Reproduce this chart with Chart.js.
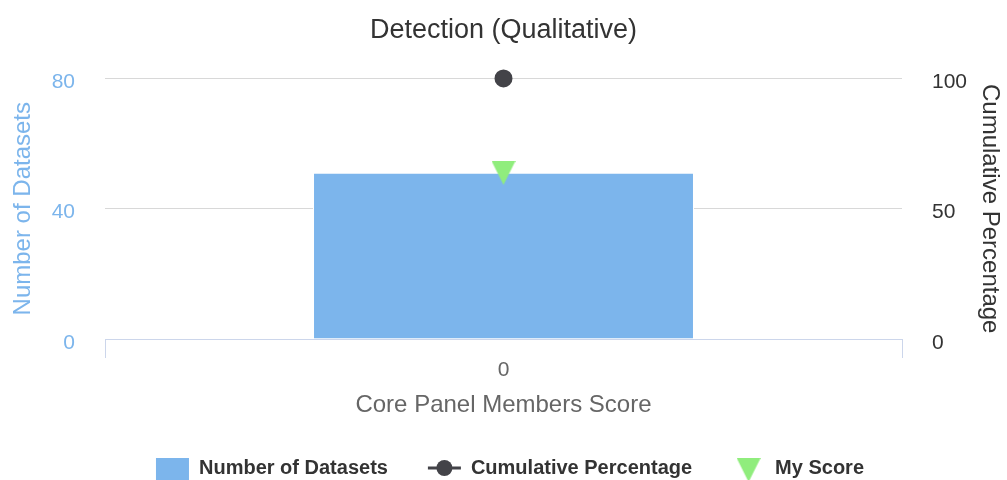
<!DOCTYPE html>
<html>
<head>
<meta charset="utf-8">
<script src="https://cdn.jsdelivr.net/npm/chart.js@4"></script>
<style>
  body { margin: 0; background: #fff; }
</style>
</head>
<body>
<canvas id="chart" width="1007" height="480"></canvas>
<script>
// chart data
const categories = ["0"];
const datasetCounts = [51];
const cumulativePercent = [100];
const myScore = [51];
const leftTicks = [0, 40, 80];
const rightTicks = [0, 50, 100];

const FONT = "'Liberation Sans', Arial, Helvetica, sans-serif";

// downward triangle marker (Highcharts style)
function triangleDown(size, color) {
    const c = document.createElement("canvas");
    c.width = size;
    c.height = size;
    const g = c.getContext("2d");
    g.fillStyle = color;
    g.beginPath();
    g.moveTo(0, 0);
    g.lineTo(size, 0);
    g.lineTo(size / 2, size);
    g.closePath();
    g.fill();
    return c;
}
const triMarker = triangleDown(24, "#90ed7d");

// legend drawn at the bottom like the original
const legendPlugin = {
    id: "bottomLegend",
    afterDraw(chart) {
        const ctx = chart.ctx;
        const items = chart.data.datasets;
        ctx.save();
        ctx.font = "bold 20px " + FONT;
        const symW = 33, gapText = 10, gapItem = 40;
        const widths = items.map(d => symW + gapText + ctx.measureText(d.label).width);
        const total = widths.reduce((a, b) => a + b, 0) + gapItem * (items.length - 1);
        let x = 510 - total / 2;
        const y = 468;
        items.forEach((d, i) => {
            if (d.type === "bar") {
                ctx.fillStyle = d.backgroundColor;
                ctx.fillRect(x, y - 10, symW, 22);
            } else if (d.pointStyle === triMarker) {
                ctx.drawImage(triMarker, x + symW / 2 - 12, y - 10);
            } else {
                ctx.strokeStyle = d.borderColor;
                ctx.lineWidth = 3;
                ctx.beginPath();
                ctx.moveTo(x, y);
                ctx.lineTo(x + symW, y);
                ctx.stroke();
                ctx.fillStyle = d.pointBackgroundColor;
                ctx.beginPath();
                ctx.arc(x + symW / 2, y, 8, 0, Math.PI * 2);
                ctx.fill();
            }
            ctx.fillStyle = "#333333";
            ctx.textBaseline = "middle";
            ctx.textAlign = "left";
            ctx.fillText(d.label, x + symW + gapText, y);
            x += widths[i] + gapItem;
        });
        ctx.restore();
    }
};

const ctx = document.getElementById("chart").getContext("2d");
const chart = new Chart(ctx, {
    data: {
        labels: categories,
        datasets: [
            {
                type: "bar",
                label: "Number of Datasets",
                data: datasetCounts,
                yAxisID: "y",
                backgroundColor: "#7cb5ec",
                borderColor: "#ffffff",
                borderWidth: 1,
                barPercentage: 0.478,
                categoryPercentage: 1,
                order: 3
            },
            {
                type: "line",
                label: "Cumulative Percentage",
                data: cumulativePercent,
                yAxisID: "y1",
                borderColor: "#434348",
                borderWidth: 2,
                pointBackgroundColor: "#434348",
                pointBorderColor: "#434348",
                pointRadius: 8,
                clip: false,
                order: 1
            },
            {
                type: "line",
                label: "My Score",
                data: myScore,
                yAxisID: "y",
                showLine: false,
                pointStyle: triMarker,
                clip: false,
                order: 0
            }
        ]
    },
    options: {
        responsive: false,
        devicePixelRatio: 1,
        animation: false,
        layout: {
            padding: { top: 0, left: 0, right: 0, bottom: 50 }
        },
        plugins: {
            legend: { display: false },
            tooltip: { enabled: false },
            title: {
                display: true,
                text: "Detection (Qualitative)",
                color: "#333333",
                font: { family: FONT, size: 27, weight: "normal" },
                padding: { top: 14, bottom: 32 }
            }
        },
        scales: {
            x: {
                offset: true,
                afterFit: s => { s.height = 91; },
                grid: {
                    offset: true,
                    drawOnChartArea: false,
                    drawTicks: true,
                    tickLength: 19,
                    tickColor: "#ccd6eb",
                    tickWidth: 1
                },
                border: { color: "#ccd6eb", width: 1 },
                ticks: {
                    color: "#666666",
                    padding: 0,
                    font: { family: FONT, size: 21 }
                },
                title: {
                    display: true,
                    text: "Core Panel Members Score",
                    color: "#666666",
                    font: { family: FONT, size: 24 },
                    padding: { top: 0, bottom: 10 }
                }
            },
            y: {
                position: "left",
                min: 0,
                max: 80,
                afterFit: s => { s.width = 105; },
                afterBuildTicks: s => { s.ticks = leftTicks.map(v => ({ value: v })); },
                grid: { color: "#d8d8d8", lineWidth: 1, drawTicks: false },
                border: { display: false },
                ticks: {
                    color: "#7cb5ec",
                    padding: 30,
                    labelOffset: 4,
                    font: { family: FONT, size: 21 }
                },
                title: {
                    display: true,
                    text: "Number of Datasets",
                    color: "#7cb5ec",
                    font: { family: FONT, size: 24 },
                    padding: { top: 9, bottom: 0 }
                }
            },
            y1: {
                position: "right",
                min: 0,
                max: 100,
                afterFit: s => { s.width = 105; },
                afterBuildTicks: s => { s.ticks = rightTicks.map(v => ({ value: v })); },
                grid: { drawOnChartArea: false, drawTicks: false },
                border: { display: false },
                ticks: {
                    color: "#333333",
                    padding: 30,
                    labelOffset: 4,
                    font: { family: FONT, size: 21 }
                },
                title: {
                    display: true,
                    text: "Cumulative Percentage",
                    color: "#333333",
                    font: { family: FONT, size: 24 },
                    padding: { top: 3, bottom: 0 }
                }
            }
        }
    },
    plugins: [legendPlugin]
});
</script>
</body>
</html>
